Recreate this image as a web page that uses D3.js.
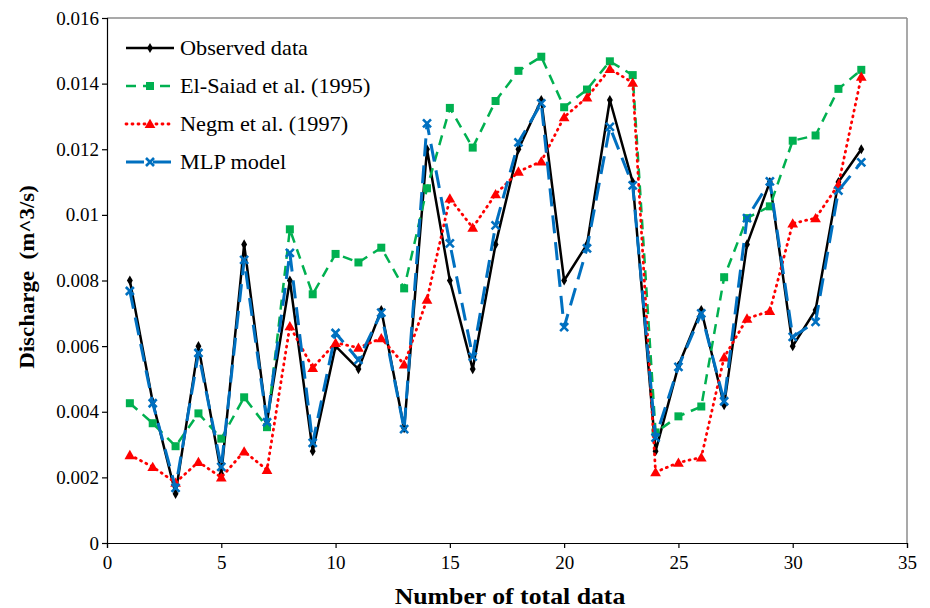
<!DOCTYPE html>
<html><head><meta charset="utf-8">
<script src="https://cdn.jsdelivr.net/npm/d3@7"></script>
<style>body{margin:0;background:#fff}svg{display:block}
svg text{font-family:"Liberation Serif",serif;}
</style>
</head><body><svg id="c" width="930" height="608"></svg>
<script>
const xIndex = d3.range(1, 34);
const observed = [0.008,0.0043,0.0015,0.006,0.0021,0.0091,0.0037,0.008,0.0028,0.006,0.0053,0.0071,0.0035,0.012,0.008,0.0053,0.0091,0.012,0.0135,0.008,0.0091,0.0135,0.011,0.0028,0.0054,0.0071,0.0042,0.0091,0.011,0.006,0.0071,0.011,0.012];
const elSaiad = [0.00426,0.00365,0.00295,0.00395,0.00318,0.00444,0.00353,0.00956,0.00758,0.00881,0.00855,0.009,0.00776,0.01081,0.01326,0.01205,0.01347,0.01439,0.01482,0.01328,0.01382,0.01468,0.01426,0.00337,0.00386,0.00416,0.0081,0.0099,0.01026,0.01226,0.01242,0.01384,0.01442];
const negm = [0.00268,0.00232,0.00184,0.00247,0.002,0.00279,0.00223,0.00661,0.00534,0.0061,0.00595,0.00624,0.00544,0.00742,0.0105,0.00961,0.01063,0.01132,0.01163,0.01298,0.01358,0.01445,0.01403,0.00216,0.00245,0.00261,0.00566,0.00684,0.00707,0.00974,0.0099,0.01092,0.01421];
const mlp = [0.00768,0.00426,0.00168,0.00579,0.00232,0.00863,0.00368,0.00884,0.00305,0.0064,0.00558,0.00702,0.00347,0.01279,0.00913,0.00568,0.00968,0.01221,0.0134,0.00658,0.00898,0.01268,0.0109,0.00321,0.00537,0.007,0.00432,0.0099,0.01102,0.00628,0.00674,0.01074,0.0116];
const seriesNames = ["Observed data","El-Saiad et al. (1995)","Negm et al. (1997)","MLP model"];
const xTicks = [0,5,10,15,20,25,30,35];
const yTicks = [0,0.002,0.004,0.006,0.008,0.01,0.012,0.014,0.016];

const svg = d3.select("#c");
const L=107,R=907,T=18,B=543;
const x = d3.scaleLinear().domain([0,35]).range([L,R]);
const y = d3.scaleLinear().domain([0,0.016]).range([B,T]);

function stretch(sel,f){ const n=sel.node(); const w=n.getComputedTextLength(); sel.attr("textLength",w*f).attr("lengthAdjust","spacingAndGlyphs"); }

svg.append("line").attr("x1",L).attr("x2",R).attr("y1",T).attr("y2",T).attr("stroke","#8c8c8c").attr("stroke-width",1.5);
svg.append("line").attr("x1",R).attr("x2",R).attr("y1",T).attr("y2",B).attr("stroke","#8c8c8c").attr("stroke-width",1.5);

const fmt = d => d===0?"0":(d===0.01?"0.01":d3.format(".3f")(d));
const ya = svg.append("g").attr("transform",`translate(${L},0)`)
  .call(d3.axisLeft(y).tickValues(yTicks).tickFormat(fmt).tickSize(5).tickPadding(3));
const xa = svg.append("g").attr("transform",`translate(0,${B})`)
  .call(d3.axisBottom(x).tickValues(xTicks).tickFormat(d3.format("d")).tickSize(5).tickPadding(8));
[ya,xa].forEach(a=>{
  a.attr("font-family",null).attr("font-size",null);
  a.selectAll("path,line").attr("stroke","#000").attr("stroke-width",1.2);
  a.selectAll("text").attr("font-size",19).attr("fill","#000");
});

const xt = svg.append("text").attr("x",(L+R)/2+3).attr("y",604).attr("text-anchor","middle")
  .attr("font-weight","bold").attr("font-size",23).text("Number of total data");
stretch(xt,1.12);
const yt = svg.append("text").attr("transform",`translate(34,277) rotate(-90)`).attr("text-anchor","middle")
  .attr("font-weight","bold").attr("font-size",22).style("white-space","pre").text("Discharge  (m^3/s)");
stretch(yt,1.04);

const styles = [
  {data:observed,color:"#000000",dash:null,w:2.5,marker:"diamond"},
  {data:elSaiad,color:"#00b050",dash:"10,7",w:2.5,marker:"square"},
  {data:negm,color:"#ff0000",dash:"1,5",w:2.8,marker:"triangle"},
  {data:mlp,color:"#0070c0",dash:"18,9",w:3,marker:"cross"}
];
const line = d3.line().x((d,i)=>x(xIndex[i])).y(d=>y(d));
function drawMarker(g,type,cx,cy,color){
  if(type==="diamond"){
    g.append("path").attr("d",d3.symbol(d3.symbolDiamond,30)()).attr("transform",`translate(${cx},${cy})`).attr("fill",color);
  } else if(type==="square"){
    g.append("rect").attr("x",cx-4).attr("y",cy-4).attr("width",8).attr("height",8).attr("fill",color);
  } else if(type==="triangle"){
    g.append("path").attr("d",d3.symbol(d3.symbolTriangle,50)()).attr("transform",`translate(${cx},${cy+1})`).attr("fill",color);
  } else {
    const s=4;
    g.append("path").attr("d",`M${cx-s},${cy-s}L${cx+s},${cy+s}M${cx-s},${cy+s}L${cx+s},${cy-s}`)
      .attr("stroke",color).attr("stroke-width",2.6).attr("fill","none");
  }
}
styles.forEach(s=>{
  const g = svg.append("g");
  g.append("path").datum(s.data).attr("d",line).attr("fill","none").attr("stroke",s.color)
    .attr("stroke-width",s.w).attr("stroke-dasharray",s.dash).attr("stroke-linecap",s.marker==="triangle"?"round":"butt").attr("stroke-linejoin","round");
  s.data.forEach((d,i)=>drawMarker(g,s.marker,x(xIndex[i]),y(d),s.color));
});

const lg = svg.append("g");
seriesNames.forEach((n,i)=>{
  const yy = 48 + i*38, s = styles[i];
  lg.append("line").attr("x1",126).attr("x2",174).attr("y1",yy).attr("y2",yy).attr("stroke",s.color)
    .attr("stroke-width",s.w).attr("stroke-dasharray",s.dash).attr("stroke-linecap",s.marker==="triangle"?"round":"butt");
  drawMarker(lg,s.marker,150,yy,s.color);
  const t = lg.append("text").attr("x",180).attr("y",yy+7).attr("font-size",21).text(n);
  stretch(t,1.06);
});
</script></body></html>
